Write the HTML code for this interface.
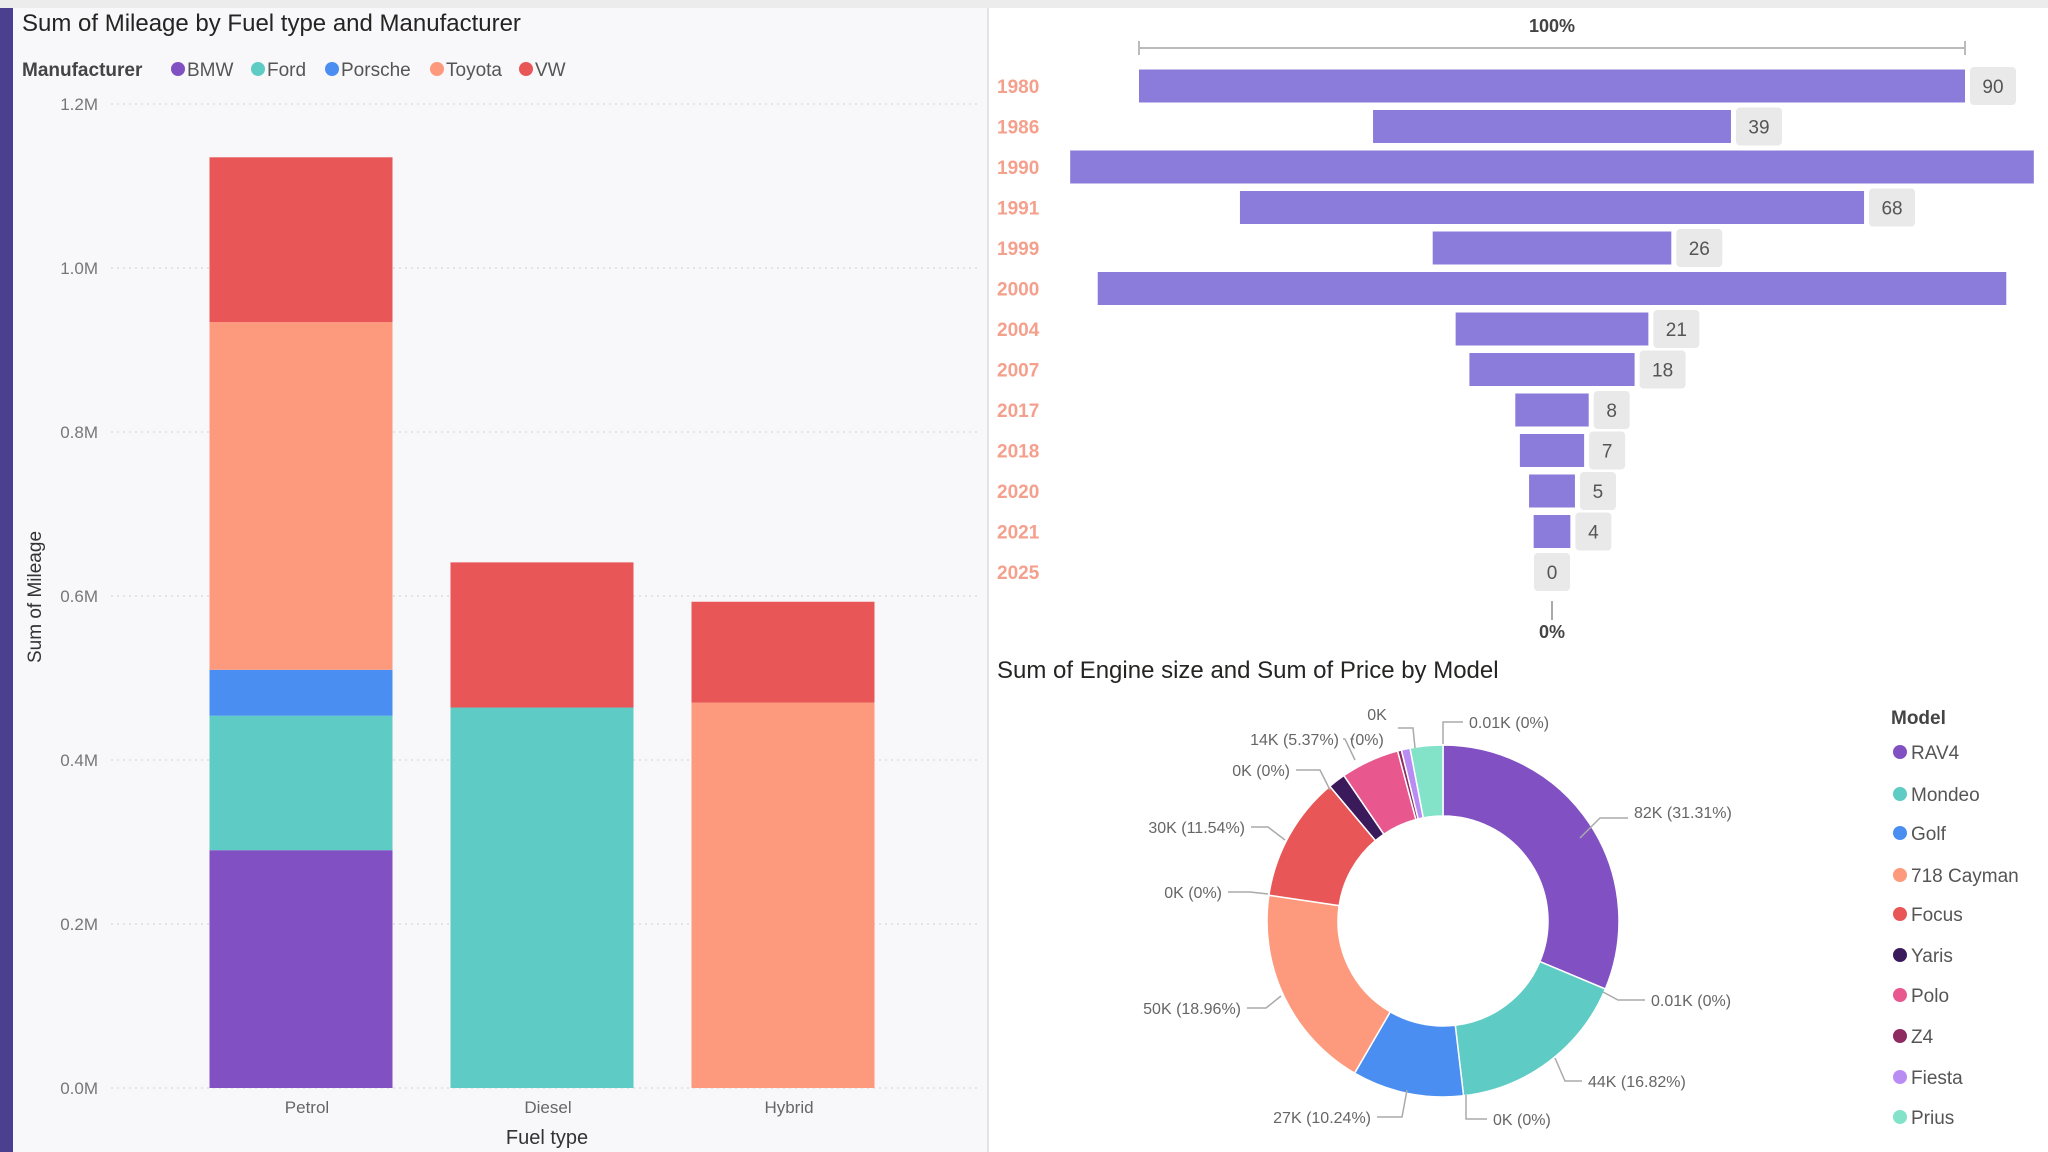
<!DOCTYPE html>
<html><head><meta charset="utf-8"><style>
html,body{margin:0;padding:0;width:2048px;height:1152px;overflow:hidden;background:#fff;font-family:"Liberation Sans",sans-serif;}
svg{display:block}
</style></head><body>
<svg id="root" width="2048" height="1152" xmlns="http://www.w3.org/2000/svg">
<rect x="0" y="0" width="2048" height="1152" fill="#ffffff"/>
<rect x="13" y="8" width="974" height="1144" fill="#f8f8fa"/>
<rect x="0" y="0" width="13" height="1152" fill="#4b3f8f"/>
<rect x="0" y="0" width="2048" height="8" fill="#ececec"/>
<line x1="988" y1="8" x2="988" y2="1152" stroke="#e4e4e4" stroke-width="2"/>
<g id="bar"></g><g id="funnel"></g><g id="donut"></g>
</svg>
<script>
const NS="http://www.w3.org/2000/svg";
function mk(tag,attrs,parent,text){const e=document.createElementNS(NS,tag);for(const k in attrs)e.setAttribute(k,attrs[k]);if(text!==undefined)e.textContent=text;parent.appendChild(e);return e;}

/* ---------- stacked bar chart ---------- */
const fuelTypes=["Petrol","Diesel","Hybrid"];
const manufacturers=["BMW","Ford","Porsche","Toyota","VW"];
const bmwVals=[0.29,0,0];
const fordVals=[0.164,0.464,0];
const porscheVals=[0.056,0,0];
const toyotaVals=[0.424,0,0.47];
const vwVals=[0.201,0.177,0.123];
const yTicks=[0,0.2,0.4,0.6,0.8,1.0,1.2];
const yTickLabels=["0.0M","0.2M","0.4M","0.6M","0.8M","1.0M","1.2M"];

/* ---------- funnel ---------- */
const years=["1980","1986","1990","1991","1999","2000","2004","2007","2017","2018","2020","2021","2025"];
const counts=[90,39,105,68,26,99,21,18,8,7,5,4,0];
const showCountLabel=[true,true,false,true,true,false,true,true,true,true,true,true,true];

/* ---------- donut ---------- */
const models=["RAV4","Mondeo","Golf","718 Cayman","Focus","Yaris","Polo","Z4","Fiesta","Prius"];
const shares=[31.31,16.82,10.24,18.96,11.54,1.6,5.37,0.35,0.8,3.0];

const colors={BMW:"#8150c3",Ford:"#5ecbc5",Porsche:"#4a8ef2",Toyota:"#fd9a7d",VW:"#e85657"};
const modelColors=["#8150c3","#5ecbc5","#4a8ef2","#fd9a7d","#e85657","#3b1a5c","#e8588f","#8e2b60","#b98cf4","#82e3c8"];

(function(){
 const g=document.getElementById('bar');
 let t=mk('text',{x:22,y:31,'font-size':24,fill:'#252423'},g,"Sum of Mileage by Fuel type and Manufacturer");
 
 
 t=mk('text',{x:22,y:76,'font-size':19,'font-weight':'bold',fill:'#444'},g,"Manufacturer");
 
 
 const lx=[178,258,332,437,526];
 manufacturers.forEach((m,i)=>{
  const lg=mk('g',{},g);
  
  
  mk('circle',{cx:lx[i],cy:69,r:7,fill:colors[m]},lg);
  mk('text',{x:lx[i]+9,y:76,'font-size':19,fill:'#555'},lg,m);
 });
 const y0=1088,y1=104,vmax=1.2;
 const ys=v=>y0-(v/vmax)*(y0-y1);
 yTicks.forEach((v,i)=>{
  mk('line',{x1:111,x2:980,y1:ys(v),y2:ys(v),stroke:'#d0d0d0','stroke-dasharray':'2,4'},g);
  const tl=mk('text',{x:98,y:ys(v)+6,'font-size':17,fill:'#777','text-anchor':'end'},g,yTickLabels[i]);
  
  
 });
 const series=[bmwVals,fordVals,porscheVals,toyotaVals,vwVals];
 const xc=[301,542,783],bw=183;
 fuelTypes.forEach((f,i)=>{
  let acc=0;
  series.forEach((s,k)=>{
   const v=s[i]; if(v<=0)return;
   const r=mk('rect',{x:xc[i]-bw/2,y:ys(acc+v),width:bw,height:ys(acc)-ys(acc+v),fill:colors[manufacturers[k]]},g);
   
   
   acc+=v;
  });
  const cl=mk('text',{x:xc[i]+6,y:1113,'font-size':17,fill:'#666','text-anchor':'middle'},g,f);
  
  
 });
 t=mk('text',{x:547,y:1144,'font-size':20,fill:'#333','text-anchor':'middle'},g,"Fuel type");
 
 
 t=mk('text',{x:41,y:597,'font-size':19,fill:'#333','text-anchor':'middle',transform:'rotate(-90 41 597)'},g,"Sum of Mileage");
 
 
})();

(function(){
 const g=document.getElementById('funnel');
 const cx=1552,unit=826/90,rowY0=86,step=40.5,bh=33;
 let t=mk('text',{x:cx,y:32,'font-size':18,'font-weight':'bold',fill:'#444','text-anchor':'middle'},g,"100%");
 
 
 const w0=counts[0]*unit;
 mk('path',{d:`M${cx-w0/2} 41 V55 M${cx-w0/2} 48 H${cx+w0/2} M${cx+w0/2} 41 V55`,stroke:'#bbb',fill:'none','stroke-width':2},g);
 years.forEach((y,i)=>{
  const cy=rowY0+i*step,w=counts[i]*unit;
  const yl=mk('text',{x:997,y:cy+7,'font-size':19,'font-weight':'bold',fill:'#f4a08c'},g,y);
  
  
  if(w>0){
   const r=mk('rect',{x:cx-w/2,y:cy-bh/2,width:w,height:bh,fill:'#8b7cdb'},g);
   
   
  }
  if(showCountLabel[i]){
   const s=String(counts[i]);const bw=s.length>1?46:36;
   const bx=w>0?cx+w/2+5:cx-bw/2;
   mk('rect',{x:bx,y:cy-19,width:bw,height:38,rx:4,fill:'#e9e9e9'},g);
   const vl=mk('text',{x:bx+bw/2,y:cy+7,'font-size':19,fill:'#555','text-anchor':'middle'},g,s);
   
   
  }
 });
 mk('line',{x1:cx,x2:cx,y1:601,y2:620,stroke:'#aaa','stroke-width':2},g);
 t=mk('text',{x:cx,y:638,'font-size':18,'font-weight':'bold',fill:'#444','text-anchor':'middle'},g,"0%");
 
 
})();

(function(){
 const g=document.getElementById('donut');
 let t=mk('text',{x:997,y:678,'font-size':24,fill:'#252423'},g,"Sum of Engine size and Sum of Price by Model");
 
 
 const cx=1443,cy=921,R=176,r=105;
 const total=shares.reduce((a,b)=>a+b,0);
 let a=0;
 const pt=(ang,rad)=>[cx+rad*Math.sin(ang),cy-rad*Math.cos(ang)];
 shares.forEach((s,i)=>{
  const a1=a+s/total*2*Math.PI;
  const [x1,y1]=pt(a,R),[x2,y2]=pt(a1,R),[x3,y3]=pt(a1,r),[x4,y4]=pt(a,r);
  const lg=(a1-a)>Math.PI?1:0;
  const p=mk('path',{d:`M${x1} ${y1} A${R} ${R} 0 ${lg} 1 ${x2} ${y2} L${x3} ${y3} A${r} ${r} 0 ${lg} 0 ${x4} ${y4} Z`,fill:modelColors[i],stroke:'#fff','stroke-width':1.5},g);
  
  
  a=a1;
 });
 const labels=[
  ["82K (31.31%)",1634,818,"start",[[1580,838],[1600,818],[1628,818]]],
  ["0.01K (0%)",1651,1006,"start",[[1603,992],[1618,1000],[1645,1000]]],
  ["44K (16.82%)",1588,1087,"start",[[1555,1058],[1565,1081],[1582,1081]]],
  ["0K (0%)",1493,1125,"start",[[1466,1095],[1466,1119],[1487,1119]]],
  ["27K (10.24%)",1371,1123,"end",[[1407,1090],[1402,1117],[1377,1117]]],
  ["50K (18.96%)",1241,1014,"end",[[1281,996],[1266,1008],[1247,1008]]],
  ["0K (0%)",1222,898,"end",[[1268,894],[1250,892],[1228,892]]],
  ["30K (11.54%)",1245,833,"end",[[1285,840],[1268,827],[1251,827]]],
  ["0K (0%)",1290,776,"end",[[1330,790],[1320,770],[1296,770]]],
  ["14K (5.37%)",1339,745,"end",[[1355,760],[1345,739],[1343,739]]],
  ["(0%)",1350,745,"start",[[1350,739],[1352,739],[1354,739]]],
  ["0K",1377,720,"middle",[[1415,748],[1413,728],[1398,728]]],
  ["0.01K (0%)",1469,728,"start",[[1443,744],[1443,722],[1463,722]]]
 ];
 labels.forEach(l=>{
  mk('polyline',{points:l[4].map(p=>p.join(',')).join(' '),fill:'none',stroke:'#aaa','stroke-width':1.5},g);
  const tl=mk('text',{x:l[1],y:l[2],'font-size':16,fill:'#666','text-anchor':l[3]},g,l[0]);
  
  
 });
 t=mk('text',{x:1891,y:724,'font-size':19,'font-weight':'bold',fill:'#444'},g,"Model");
 
 
 const ly=[752,794,833,875,914,955,995,1036,1077,1117];
 models.forEach((m,i)=>{
  const lg=mk('g',{},g);
  
  
  mk('circle',{cx:1900,cy:ly[i],r:7,fill:modelColors[i]},lg);
  mk('text',{x:1911,y:ly[i]+7,'font-size':19,fill:'#555'},lg,m);
 });
})();
</script>
</body></html>
